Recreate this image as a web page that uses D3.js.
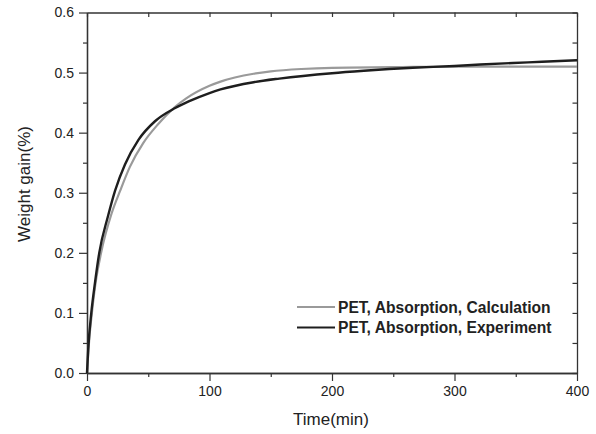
<!DOCTYPE html>
<html>
<head>
<meta charset="utf-8">
<script src="https://cdn.jsdelivr.net/npm/d3@7/dist/d3.min.js"></script>
<style>
  body { margin: 0; background: #fff; }
  #chart svg { display: block; }
  text { font-family: "Liberation Sans", Arial, sans-serif; fill: #222; }
</style>
</head>
<body>
<div id="chart"></div>
<script>
// time (min) and weight gain (%)
const calcTime  = [0, 2, 4, 7, 11.5, 20, 27, 35, 46, 58, 72, 81, 100, 109, 136, 150, 175, 200, 250, 300, 350, 400];
const calcGain  = [0, 0.06, 0.1, 0.15, 0.2, 0.265, 0.303, 0.343, 0.383, 0.414, 0.443, 0.457, 0.478, 0.485, 0.498, 0.502, 0.506, 0.508, 0.509, 0.51, 0.51, 0.51];
const expTime   = [0, 1, 3.5, 6.5, 10, 17, 23, 31, 42, 55.5, 72, 83, 100, 109, 136, 157, 200, 226, 266, 300, 321, 360, 400];
const expGain   = [0, 0.04, 0.1, 0.15, 0.2, 0.26, 0.304, 0.347, 0.388, 0.419, 0.441, 0.452, 0.466, 0.472, 0.484, 0.49, 0.499, 0.503, 0.508, 0.511, 0.5135, 0.517, 0.5205];

const xTicks = [0, 100, 200, 300, 400];
const xMinor = [50, 150, 250, 350];
const yTicks = [0, 0.1, 0.2, 0.3, 0.4, 0.5, 0.6];
const yMinor = [0.05, 0.15, 0.25, 0.35, 0.45, 0.55];

const seriesNames = ["PET, Absorption, Calculation", "PET, Absorption, Experiment"];
const seriesColors = ["#9a9a9a", "#1e1e1e"];

const width = 596, height = 434;
const svg = d3.select("#chart").append("svg")
  .attr("width", width)
  .attr("height", height);

const x = d3.scaleLinear().domain([0, 400]).range([87, 577]);
const y = d3.scaleLinear().domain([0, 0.6]).range([373, 12.5]);

// axes
function styleAxis(g) {
  g.selectAll(".domain").attr("stroke", "#333").attr("stroke-width", 1.3);
  g.selectAll(".tick line").attr("stroke", "#333").attr("stroke-width", 1.2);
  g.selectAll("text").attr("font-size", 14).attr("fill", "#222")
    .style("font-family", "'Liberation Sans', Arial, sans-serif");
}

svg.append("g").attr("transform", "translate(0,373)")
  .call(d3.axisBottom(x).tickValues(xTicks).tickSize(8).tickPadding(5).tickSizeOuter(0))
  .call(styleAxis);
svg.append("g").attr("transform", "translate(0,373)")
  .call(d3.axisBottom(x).tickValues(xMinor).tickSize(4).tickFormat("").tickSizeOuter(0))
  .call(styleAxis);

svg.append("g").attr("transform", "translate(87,0)")
  .call(d3.axisLeft(y).tickValues(yTicks).tickSize(8).tickPadding(5).tickFormat(d3.format(".1f")).tickSizeOuter(0))
  .call(styleAxis);
svg.append("g").attr("transform", "translate(87,0)")
  .call(d3.axisLeft(y).tickValues(yMinor).tickSize(4).tickFormat("").tickSizeOuter(0))
  .call(styleAxis);

svg.append("g").attr("transform", "translate(0,12.5)")
  .call(d3.axisTop(x).tickValues(xTicks.concat(xMinor)).tickSize(-4.5).tickFormat("").tickSizeOuter(0))
  .call(styleAxis);
svg.append("g").attr("transform", "translate(577,0)")
  .call(d3.axisRight(y).tickValues(yTicks.concat(yMinor)).tickSize(-4.5).tickFormat("").tickSizeOuter(0))
  .call(styleAxis);

// axis titles
svg.append("text")
  .attr("x", 331).attr("y", 425)
  .attr("text-anchor", "middle")
  .attr("font-size", 17)
  .text("Time(min)");
svg.append("text")
  .attr("transform", "translate(30,184) rotate(-90)")
  .attr("text-anchor", "middle")
  .attr("font-size", 17)
  .text("Weight gain(%)");

// curves
const line = d3.line()
  .x(d => x(d[0]))
  .y(d => y(d[1]))
  .curve(d3.curveMonotoneX);

const calc = calcTime.map((t, i) => [t, calcGain[i]]);
const expt = expTime.map((t, i) => [t, expGain[i]]);

svg.append("path").datum(calc)
  .attr("d", line)
  .attr("fill", "none")
  .attr("stroke", seriesColors[0])
  .attr("stroke-width", 2.2);
svg.append("path").datum(expt)
  .attr("d", line)
  .attr("fill", "none")
  .attr("stroke", seriesColors[1])
  .attr("stroke-width", 2.4);

// legend
const legend = svg.append("g").attr("transform", "translate(297,307)");
seriesNames.forEach((name, i) => {
  const row = legend.append("g").attr("transform", `translate(0,${i * 20.5})`);
  row.append("line")
    .attr("x1", 0).attr("x2", 38)
    .attr("stroke", seriesColors[i])
    .attr("stroke-width", 2.2);
  row.append("text")
    .attr("x", 41).attr("y", 5.5)
    .attr("font-size", 15.6)
    .attr("font-weight", "bold")
    .text(name);
});
</script>
</body>
</html>
